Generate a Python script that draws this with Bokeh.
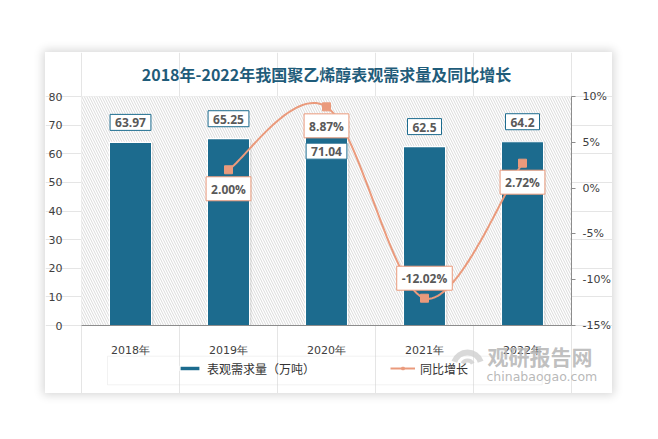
import numpy as np
from bokeh.plotting import figure
from bokeh.models import (Range1d, LinearAxis, BoxAnnotation, Label, Legend,
                          LegendItem, FixedTicker, PrintfTickFormatter)
from bokeh.embed import file_html
from bokeh.resources import INLINE

# ---------------- data ----------------
years = ["2018年", "2019年", "2020年", "2021年", "2022年"]
demand = [63.97, 65.25, 71.04, 62.5, 64.2]
demand_text = ["63.97", "65.25", "71.04", "62.5", "64.2"]
growth_years = ["2019年", "2020年", "2021年", "2022年"]
growth = [2.00, 8.87, -12.02, 2.72]
growth_text = ["2.00%", "8.87%", "-12.02%", "2.72%"]
left_ticks = [0, 10, 20, 30, 40, 50, 60, 70, 80]
right_ticks = [-15, -10, -5, 0, 5, 10]
title_text = "2018年-2022年我国聚乙烯醇表观需求量及同比增长"
bar_name = "表观需求量（万吨）"
line_name = "同比增长"

# ---------------- styles / layout ----------------
BAR = "#1C6B8E"
LINE = "#EA9A7C"
TXT = "#404040"
bar_label_inside = [False, False, True, False, False]
growth_label_above = [False, False, True, False]

CARD_W, CARD_H = 567, 341          # card (figure) size in px
PL, PR, PT, PB = 36, 41, 44, 68     # plot-area insets inside the card
PW, PH = CARD_W - PL - PR, CARD_H - PT - PB
ncat = len(years)
lmin, lmax = left_ticks[0], left_ticks[-1]
rmin, rmax = right_ticks[0], right_ticks[-1]
ux = PW / ncat
uy = PH / (lmax - lmin)
ur = PH / (rmax - rmin)


def dx(page_x):
    return (page_x - 45 - PL) / ux


def dy(page_y):
    return lmin - (page_y - 52 - PT - PH) / uy


p = figure(width=CARD_W, height=CARD_H,
           x_range=Range1d(-PL / ux, ncat + PR / ux),
           y_range=Range1d(lmin - PB / uy, lmax + PT / uy),
           output_backend="svg", toolbar_location=None,
           x_axis_location=None, y_axis_location=None,
           min_border=0, min_border_left=0, min_border_right=0,
           min_border_top=0, min_border_bottom=0)
p.styles = {"margin-left": "45px", "margin-top": "52px",
            "box-shadow": "0 0 9px 2px rgba(0,0,0,0.16)"}
p.outline_line_color = None
p.background_fill_color = "white"
p.border_fill_color = "white"
p.extra_y_ranges = {"pct": Range1d(rmin - PB / ur, rmax + PT / ur)}

# hatched plot background
p.add_layout(BoxAnnotation(left=0, right=ncat, bottom=lmin, top=lmax,
                           fill_color="white", fill_alpha=1, line_color=None,
                           hatch_pattern="\\", hatch_color="#dadada", hatch_scale=5,
                           hatch_weight=1, level="underlay"))

bx = [i + 0.5 for i in range(ncat)]
# soft bar shadow
p.vbar(x=[x + 0.02 for x in bx], top=demand, width=0.43, fill_color="#000000",
       fill_alpha=0.10, line_color=None)
bars = p.vbar(x=bx, top=demand, width=0.43, fill_color=BAR, line_color="white", line_width=1.2)

# smooth curve (Catmull-Rom Bezier through the growth points)
xs = [years.index(y) + 0.5 for y in growth_years]
pts = list(zip(xs, growth))
cx, cy = [], []
n = len(pts)
for i in range(n - 1):
    p0 = pts[i - 1] if i > 0 else pts[i]
    p1 = pts[i]
    p2 = pts[i + 1]
    p3 = pts[i + 2] if i + 2 < n else pts[i + 1]
    c1 = (p1[0] + (p2[0] - p0[0]) / 6, p1[1] + (p2[1] - p0[1]) / 6)
    c2 = (p2[0] - (p3[0] - p1[0]) / 6, p2[1] - (p3[1] - p1[1]) / 6)
    for t in np.linspace(0, 1, 40):
        a, b, c, d = (1 - t) ** 3, 3 * (1 - t) ** 2 * t, 3 * (1 - t) * t ** 2, t ** 3
        cx.append(a * p1[0] + b * c1[0] + c * c2[0] + d * p2[0])
        cy.append(a * p1[1] + b * c1[1] + c * c2[1] + d * p2[1])
line = p.line(cx, cy, line_color=LINE, line_width=2, y_range_name="pct")
marks = p.scatter(x=xs, y=growth, marker="square", size=8, fill_color=LINE, line_color=LINE,
                  y_range_name="pct")

# axes (fixed inside the card)
xa = LinearAxis(fixed_location=lmin, bounds=(0, ncat), ticker=FixedTicker(ticks=bx),
                major_label_overrides={x: y for x, y in zip(bx, years)})
xa.axis_line_color = "#8c8c8c"
xa.major_tick_line_color = None
xa.minor_tick_line_color = None
xa.major_label_standoff = 12
xa.major_label_text_font = "DejaVu Sans"
xa.major_label_text_font_size = "11px"
xa.major_label_text_color = TXT
p.add_layout(xa, "below")

ya = LinearAxis(fixed_location=0, bounds=(lmin, lmax), ticker=FixedTicker(ticks=left_ticks))
ya.axis_line_color = None
ya.major_tick_line_color = None
ya.minor_tick_line_color = None
ya.major_label_standoff = 13
ya.major_label_text_font = "DejaVu Sans"
ya.major_label_text_font_size = "11px"
ya.major_label_text_color = TXT
p.add_layout(ya, "left")

ra = LinearAxis(y_range_name="pct", fixed_location=ncat, bounds=(rmin, rmax),
                ticker=FixedTicker(ticks=right_ticks),
                formatter=PrintfTickFormatter(format="%d%%"))
ra.axis_line_color = "#8c8c8c"
ra.major_tick_line_color = "#8c8c8c"
ra.major_tick_out = 4
ra.major_tick_in = 0
ra.minor_tick_line_color = None
ra.major_label_standoff = 7
ra.major_label_text_font = "DejaVu Sans"
ra.major_label_text_font_size = "11px"
ra.major_label_text_color = TXT
p.add_layout(ra, "right")

PAD = dict(left=5, right=5, top=4, bottom=3)
# value labels
for i, (v, t) in enumerate(zip(demand, demand_text)):
    inside = bar_label_inside[i]
    p.add_layout(Label(x=bx[i], y=v, text=t, text_align="center",
                       text_baseline="middle", y_offset=-29 if inside else 20,
                       text_font="Open Sans", text_font_style="bold", text_font_size="12px",
                       text_color="#595959", background_fill_color="white",
                       border_line_color=BAR, border_line_width=1, padding=PAD))

for x, v, t, above in zip(xs, growth, growth_text, growth_label_above):
    p.add_layout(Label(x=x, y=v, text=t, y_range_name="pct", text_align="center",
                       text_baseline="middle", y_offset=20 if above else -19,
                       text_font="Open Sans", text_font_style="bold", text_font_size="12px",
                       text_color="#595959", background_fill_color="white",
                       border_line_color=LINE, border_line_width=1, padding=PAD))

# title (screen units: from card bottom-left, y up)
p.add_layout(Label(x=PL + PW / 2, y=CARD_H - 21, x_units="screen", y_units="screen",
                   text=title_text, text_align="center", text_baseline="middle",
                   text_font="Noto Sans CJK SC", text_font_style="bold",
                   text_font_size="16px", text_color="#1F5C7A"))

# watermark logo (light grey arcs) + text
p.annular_wedge(x=[dx(467)], y=[dy(366)], inner_radius=11, outer_radius=17,
                inner_radius_units="screen", outer_radius_units="screen",
                start_angle=0.35, end_angle=2.8,
                fill_color="#cfcfcf", line_color=None, fill_alpha=0.8)
p.annular_wedge(x=[dx(467)], y=[dy(366)], inner_radius=4, outer_radius=8,
                inner_radius_units="screen", outer_radius_units="screen",
                start_angle=0.5, end_angle=2.6,
                fill_color="#cfcfcf", line_color=None, fill_alpha=0.8)
p.add_layout(Label(x=442, y=38, x_units="screen", y_units="screen", text="观研报告网",
                   text_baseline="middle", text_font="Noto Sans CJK SC", text_font_style="bold",
                   text_font_size="21px", text_color="#b8b8b8", text_alpha=0.9))
p.add_layout(Label(x=441, y=17, x_units="screen", y_units="screen", text="chinabaogao.com",
                   text_baseline="middle", text_font="DejaVu Sans",
                   text_font_size="12.5px", text_color="#b0b0b0", text_alpha=0.9))

# legend box + legend
p.add_layout(BoxAnnotation(left=dx(107), right=dx(541.7), top=dy(355.7), bottom=dy(384.3),
                           fill_alpha=0, line_color="#d4d4d4", line_width=1))
legend = Legend(items=[LegendItem(label=bar_name, renderers=[bars]),
                       LegendItem(label=line_name, renderers=[line, marks])],
                orientation="horizontal", location=(130, 14.5), padding=2, spacing=75,
                glyph_width=25, glyph_height=6, label_height=14, label_standoff=5,
                label_text_font="Noto Sans CJK SC", label_text_font_size="12px",
                label_text_color="#333333", border_line_alpha=0, background_fill_alpha=0,
                margin=0)
p.add_layout(legend, "center")

open("out.html", "w").write(file_html(p, INLINE))
